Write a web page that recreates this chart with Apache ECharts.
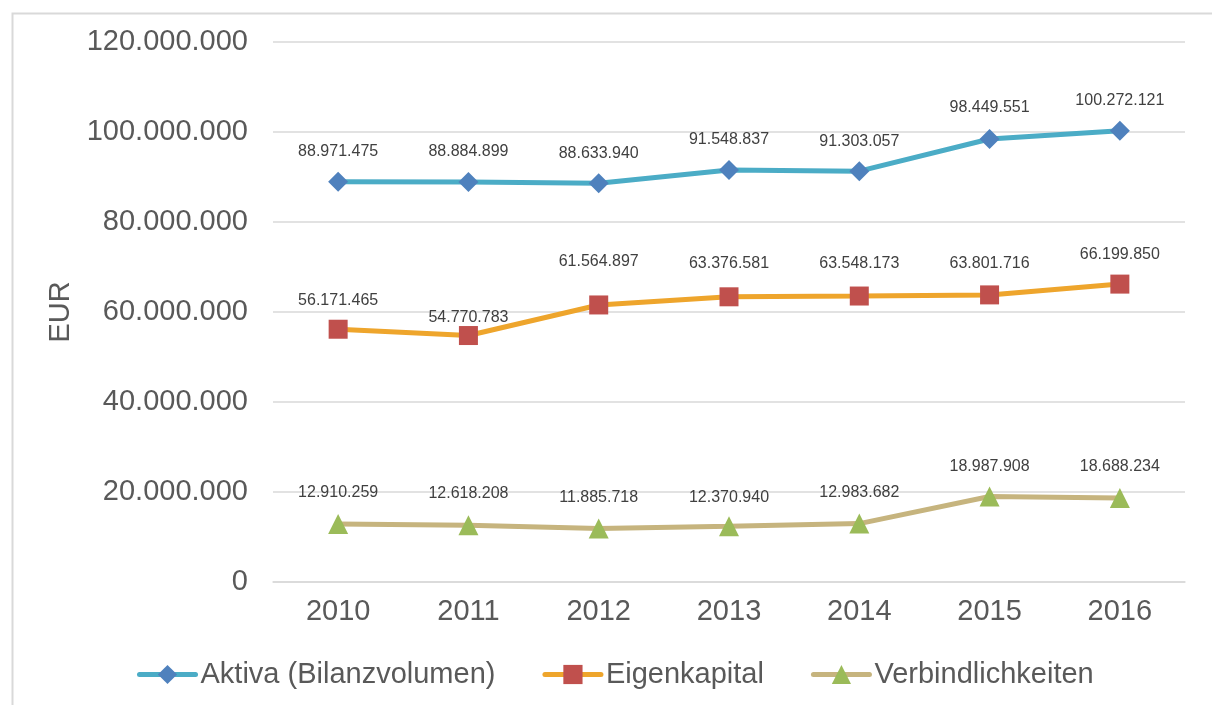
<!DOCTYPE html>
<html>
<head>
<meta charset="utf-8">
<script src="https://cdn.jsdelivr.net/npm/echarts@6/dist/echarts.min.js"></script>
<style>
  html, body { margin: 0; padding: 0; background: #fff; }
  #chart { width: 1212px; height: 705px; }
</style>
</head>
<body>
<div id="chart"></div>
<script>
    // values
    var years = ['2010', '2011', '2012', '2013', '2014', '2015', '2016'];
    var aktiva = [88971475, 88884899, 88633940, 91548837, 91303057, 98449551, 100272121];
    var eigenkapital = [56171465, 54770783, 61564897, 63376581, 63548173, 63801716, 66199850];
    var verbindlichkeiten = [12910259, 12618208, 11885718, 12370940, 12983682, 18987908, 18688234];

    // label offsets above points (px), a few moved by hand in the original
    var labelOffAktiva = [-30, -30, -30, -30, -30, -31, -30];
    var labelOffEigen = [-29, -18, -43, -33, -32, -31, -30];
    var labelOffVerb = [-31, -32, -31, -29, -31, -30, -31];

    var FONT = '"Liberation Sans", Arial, sans-serif';
    var TXT = '#595959';

    function fmt(v) {
        return String(Math.round(v)).replace(/\B(?=(\d{3})+(?!\d))/g, '.');
    }

    function withLabels(vals, offs) {
        return vals.map(function (v, k) {
            return {value: v, label: {offset: [0, offs[k]]}};
        });
    }

    function lineSeries(name, vals, offs, lineColor, symbol, symColor, symSize) {
        return {
            name: name,
            type: 'line',
            data: withLabels(vals, offs),
            symbol: symbol,
            symbolSize: symSize,
            showAllSymbol: true,
            lineStyle: {color: lineColor, width: 5},
            itemStyle: {color: symColor},
            label: {
                show: true,
                position: 'inside',
                formatter: function (p) { return fmt(p.value); },
                fontFamily: FONT,
                fontSize: 16,
                color: '#404040'
            },
            emphasis: {disabled: true},
            animation: false
        };
    }

    var dom = document.getElementById('chart');
    var myChart = echarts.init(dom);

    var option = {
        backgroundColor: '#fff',
        animation: false,
        graphic: [{
            type: 'rect',
            left: 10, top: 11,
            shape: {width: 1300, height: 800},
            style: {fill: 'none', stroke: '#d9d9d9', lineWidth: 2},
            silent: true
        }],
        grid: {left: 273, right: 27, top: 42, bottom: 123},
        legend: {
            left: 132,
            top: 655,
            itemWidth: 56,
            itemHeight: 24,
            itemGap: 47,
            lineStyle: {width: 5, cap: 'round'},
            textStyle: {fontFamily: FONT, fontSize: 29, color: TXT},
            data: ['Aktiva (Bilanzvolumen)', 'Eigenkapital', 'Verbindlichkeiten']
        },
        xAxis: {
            type: 'category',
            data: years,
            boundaryGap: true,
            axisLine: {show: true, lineStyle: {color: '#d9d9d9', width: 1.5}},
            axisTick: {show: false},
            axisLabel: {margin: 15, fontFamily: FONT, fontSize: 29, color: TXT}
        },
        yAxis: {
            type: 'value',
            min: 0,
            max: 120000000,
            interval: 20000000,
            name: 'EUR',
            nameLocation: 'middle',
            nameGap: 197,
            nameTextStyle: {fontFamily: FONT, fontSize: 29, color: TXT},
            axisLine: {show: false},
            axisTick: {show: false},
            axisLabel: {
                margin: 25,
                fontFamily: FONT,
                fontSize: 29,
                color: TXT,
                formatter: fmt
            },
            splitLine: {lineStyle: {color: '#d9d9d9', width: 1.5}}
        },
        series: [
            lineSeries('Aktiva (Bilanzvolumen)', aktiva, labelOffAktiva, '#4bacc6', 'diamond', '#4f81bd', 20),
            lineSeries('Eigenkapital', eigenkapital, labelOffEigen, '#eea52c', 'rect', '#c0504d', 19),
            lineSeries('Verbindlichkeiten', verbindlichkeiten, labelOffVerb, '#c6b47e', 'triangle', '#9bbb59', 20)
        ]
    };

    myChart.setOption(option);
</script>
</body>
</html>
